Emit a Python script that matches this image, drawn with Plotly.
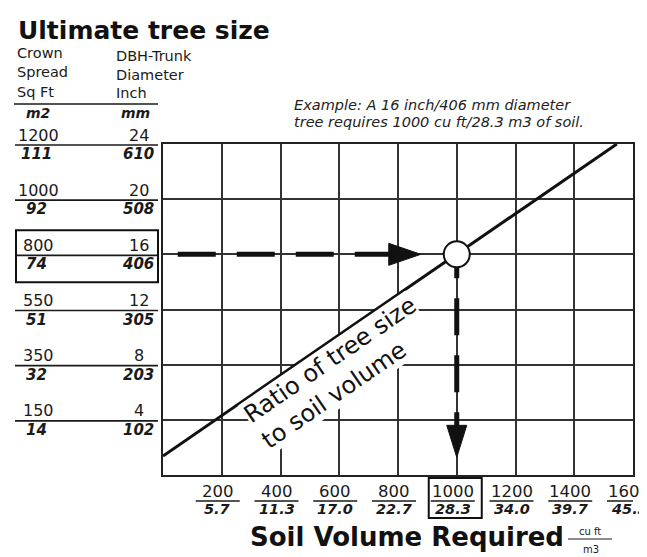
import plotly.graph_objects as go

# ---------------- data ----------------
soil_cuft = [200, 400, 600, 800, 1000, 1200, 1400, 1600]
soil_m3 = ["5.7", "11.3", "17.0", "22.7", "28.3", "34.0", "39.7", "45.3"]
dbh_inch = [24, 20, 16, 12, 8, 4]
dbh_mm = [610, 508, 406, 305, 203, 102]
crown_sqft = [1200, 1000, 800, 550, 350, 150]
crown_m2 = [111, 92, 74, 51, 32, 14]
ratio_line_cuft = [0, 1545]
ratio_line_dbh = [1.38, 24]
example_cuft = 1000
example_dbh = 16

# ---------------- layout helpers ----------------
# the page body has an 8px margin, so the figure starts at page (8, 8)
OFF = 8
PAGE_W, PAGE_H = 647, 557
W, H = PAGE_W - OFF, PAGE_H - OFF
PLOT_L, PLOT_R, PLOT_T, PLOT_B = 163, 633, 144, 475   # page pixels of plot area
L, T = PLOT_L - OFF, PLOT_T - OFF
R, B = PAGE_W - PLOT_R, PAGE_H - PLOT_B
PW, PH = PLOT_R - PLOT_L, PLOT_B - PLOT_T
FONT = "DejaVu Sans"
INK = "#1a1a1a"


def px_x(px):
    return (px - PLOT_L) / PW


def px_y(py):
    return (PLOT_B - py) / PH


fig = go.Figure()
fig.add_trace(go.Scatter(x=ratio_line_cuft, y=ratio_line_dbh, mode="lines",
                         line=dict(color="#111", width=3), hoverinfo="skip",
                         showlegend=False))
fig.add_trace(go.Scatter(x=[example_cuft], y=[example_dbh], mode="markers",
                         marker=dict(symbol="circle", size=26, color="white",
                                     line=dict(color="#111", width=2)),
                         hoverinfo="skip", showlegend=False))

ann = []
shapes = []

# title
ann.append(dict(text="<b>Ultimate tree size</b>", xref="paper", yref="paper",
                x=px_x(16), y=px_y(30), xanchor="left", yanchor="middle",
                showarrow=False, font=dict(family=FONT, size=25, color="#111")))

# left headers
hdr_font = dict(family=FONT, size=14.5, color=INK)
for txt, py in [("Crown", 53), ("Spread", 72), ("Sq Ft", 92)]:
    ann.append(dict(text=txt, xref="paper", yref="paper", x=px_x(15), y=px_y(py),
                    xanchor="left", yanchor="middle", showarrow=False, font=hdr_font))
for txt, py in [("DBH-Trunk", 56), ("Diameter", 75), ("Inch", 93)]:
    ann.append(dict(text=txt, xref="paper", yref="paper", x=px_x(114), y=px_y(py),
                    xanchor="left", yanchor="middle", showarrow=False, font=hdr_font))
shapes.append(dict(type="line", xref="paper", yref="paper", x0=px_x(14), x1=px_x(158),
                   y0=px_y(104), y1=px_y(104), line=dict(color=INK, width=1.5)))
unit_font = dict(family=FONT, size=14, color=INK)
ann.append(dict(text="<b><i>m2</i></b>", xref="paper", yref="paper", x=px_x(38), y=px_y(113),
                xanchor="center", yanchor="middle", showarrow=False, font=unit_font))
ann.append(dict(text="<b><i>mm</i></b>", xref="paper", yref="paper", x=px_x(135), y=px_y(113),
                xanchor="center", yanchor="middle", showarrow=False, font=unit_font))

# left table rows
top_font = dict(family=FONT, size=16, color=INK)
bot_font = dict(family=FONT, size=15, color=INK)
for sq, inch, m2, mm in zip(crown_sqft, dbh_inch, crown_m2, dbh_mm):
    ann.append(dict(text=str(sq), xref="paper", yref="y", x=px_x(38), y=inch, yshift=9,
                    xanchor="center", yanchor="middle", showarrow=False, font=top_font))
    ann.append(dict(text=str(inch), xref="paper", yref="y", x=px_x(139), y=inch, yshift=9,
                    xanchor="center", yanchor="middle", showarrow=False, font=top_font))
    ann.append(dict(text=f"<b><i>{m2}</i></b>", xref="paper", yref="y", x=px_x(36), y=inch,
                    yshift=-10, xanchor="center", yanchor="middle", showarrow=False,
                    font=bot_font))
    ann.append(dict(text=f"<b><i>{mm}</i></b>", xref="paper", yref="y", x=px_x(138), y=inch,
                    yshift=-10, xanchor="center", yanchor="middle", showarrow=False,
                    font=bot_font))
    shapes.append(dict(type="line", xref="paper", x0=px_x(15), x1=px_x(158),
                       yref="y", ysizemode="pixel", yanchor=inch, y0=-1, y1=-1,
                       line=dict(color=INK, width=1.6)))
# highlighted row box
shapes.append(dict(type="rect", xref="paper", x0=px_x(16), x1=px_x(158),
                   yref="y", ysizemode="pixel", yanchor=example_dbh, y0=-28, y1=24,
                   line=dict(color="#111", width=2), fillcolor="rgba(0,0,0,0)"))

# bottom axis labels
xt_font = dict(family=FONT, size=16.5, color=INK)
xb_font = dict(family=FONT, size=14.5, color=INK)
for cu, m3 in zip(soil_cuft, soil_m3):
    ann.append(dict(text=str(cu), xref="x", yref="paper", x=cu, y=px_y(491), xshift=-4,
                    xanchor="center", yanchor="middle", showarrow=False, font=xt_font))
    ann.append(dict(text=f"<b><i>{m3}</i></b>", xref="x", yref="paper", x=cu, y=px_y(509),
                    xshift=-4, xanchor="center", yanchor="middle", showarrow=False,
                    font=xb_font))
    shapes.append(dict(type="line", xref="x", xsizemode="pixel", xanchor=cu, x0=-26, x1=18,
                       yref="paper", y0=px_y(501), y1=px_y(501),
                       line=dict(color=INK, width=1.5)))
shapes.append(dict(type="rect", xref="x", xsizemode="pixel", xanchor=example_cuft, x0=-28,
                   x1=25, yref="paper", y0=px_y(478), y1=px_y(518),
                   line=dict(color="#111", width=2), fillcolor="rgba(0,0,0,0)"))

# axis title
ann.append(dict(text="<b>Soil Volume Required</b>", xref="paper", yref="paper",
                x=px_x(407), y=px_y(537), xanchor="center", yanchor="middle",
                showarrow=False, font=dict(family=FONT, size=26, color="#111")))
ann.append(dict(text="cu ft", xref="paper", yref="paper", x=px_x(590), y=px_y(531),
                xanchor="center", yanchor="middle", showarrow=False,
                font=dict(family=FONT, size=10, color=INK)))
ann.append(dict(text="m3", xref="paper", yref="paper", x=px_x(591), y=px_y(549),
                xanchor="center", yanchor="middle", showarrow=False,
                font=dict(family=FONT, size=10, color=INK)))
shapes.append(dict(type="line", xref="paper", yref="paper", x0=px_x(568), x1=px_x(612),
                   y0=px_y(539), y1=px_y(539), line=dict(color=INK, width=1.2)))

# example note
ex_font = dict(family=FONT, size=14.5, color="#222", style="italic")
ann.append(dict(text="Example: A 16 inch/406 mm diameter", xref="paper", yref="paper",
                x=px_x(292), y=px_y(105), xanchor="left", yanchor="middle",
                showarrow=False, font=ex_font))
ann.append(dict(text="tree requires 1000 cu ft/28.3 m3 of soil.", xref="paper",
                yref="paper", x=px_x(292), y=px_y(122), xanchor="left", yanchor="middle",
                showarrow=False, font=ex_font))

# ratio label
ann.append(dict(text="Ratio of tree size<br>to soil volume", xref="x", yref="y",
                x=600, y=7.4, textangle=-34.5, align="left", showarrow=False,
                bgcolor="white", borderpad=0,
                font=dict(family=FONT, size=24, color="#111")))

# example arrows (positioned relative to the example point)
shapes.append(dict(type="line", xref="x", xsizemode="pixel", xanchor=example_cuft,
                   x0=-279, x1=-62, yref="y", ysizemode="pixel", yanchor=example_dbh,
                   y0=0, y1=0, layer="between",
                   line=dict(color="#111", width=5, dash="38px,21px")))
shapes.append(dict(type="path", xref="x", xsizemode="pixel", xanchor=example_cuft,
                   yref="y", ysizemode="pixel", yanchor=example_dbh,
                   path="M-36,0 L-68,11 L-68,-11 Z", fillcolor="#111",
                   line=dict(color="#111", width=1)))
shapes.append(dict(type="line", xref="x", xsizemode="pixel", xanchor=example_cuft,
                   x0=0, x1=0, yref="y", ysizemode="pixel", yanchor=example_dbh,
                   y0=13, y1=-185, layer="between",
                   line=dict(color="#111", width=5, dash="37px,20px")))
shapes.append(dict(type="path", xref="x", xsizemode="pixel", xanchor=example_cuft,
                   yref="y", ysizemode="pixel", yanchor=example_dbh,
                   path="M0,-203 L-10,-171 L10,-171 Z", fillcolor="#111",
                   line=dict(color="#111", width=1)))

axis_common = dict(showgrid=True, gridcolor="#333", gridwidth=1.8, showticklabels=False,
                   ticks="", showline=True, mirror=True, linecolor="#222", linewidth=2,
                   zeroline=False, fixedrange=True)
fig.update_layout(
    width=W, height=H, margin=dict(l=L, r=R, t=T, b=B, autoexpand=False),
    paper_bgcolor="white", plot_bgcolor="white",
    xaxis=dict(range=[0, 1600], tick0=0, dtick=200, **axis_common),
    yaxis=dict(range=[0, 24], tick0=0, dtick=4, **axis_common),
    annotations=ann, shapes=shapes, showlegend=False,
)
fig.write_html("out.html")
